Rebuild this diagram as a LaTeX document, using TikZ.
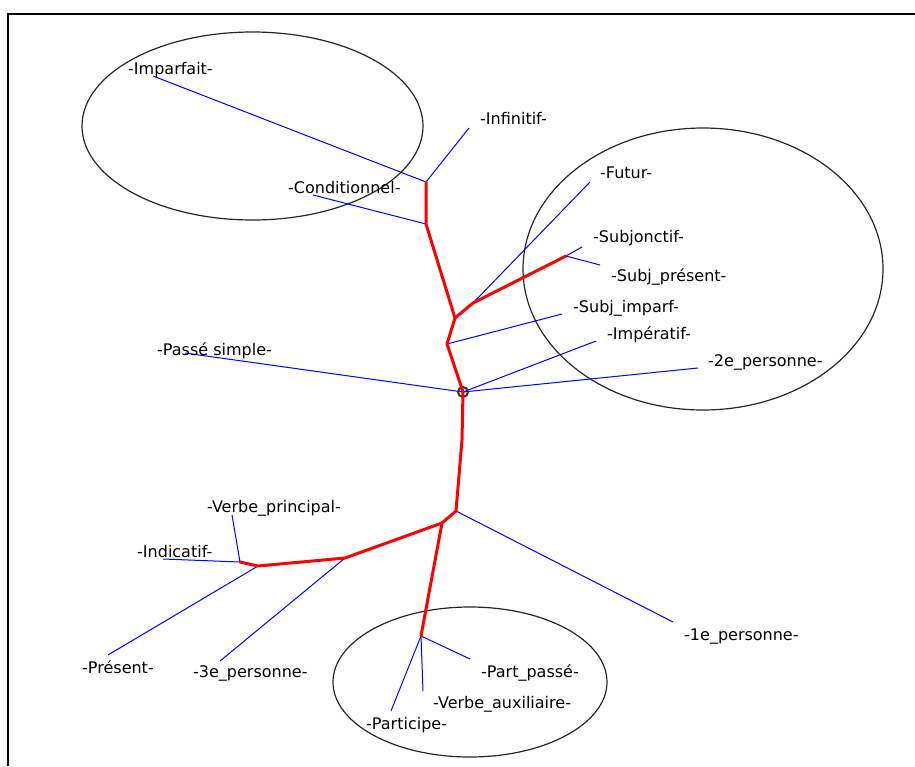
\documentclass[tikz,border=0pt]{standalone}
\usepackage{fontspec}
\setmainfont{DejaVu Sans}
\usepackage{tikz}
\usetikzlibrary{positioning}

\begin{document}
\begin{tikzpicture}[x=1pt,y=-1pt,
    etiquette/.style={anchor=west, inner sep=0pt, font=\fontsize{16}{18}\selectfont,
      text height=11.5pt, text depth=3pt},
    branche/.style={blue, line width=1pt},
    tronc/.style={red, line width=3pt, line join=round, line cap=round},
    zone/.style={black!85, line width=1.2pt}]
        \useasboundingbox (0,0) rectangle (915,766);
        % Cadre
        \draw[line width=2pt] (8,766) -- (8,13.5) -- (915,13.5);

        % Zones
        \draw[zone] (252.5,126) ellipse [x radius=170.5pt, y radius=94pt];
        \draw[zone] (703,269) ellipse [x radius=180pt, y radius=141pt];
        \draw[zone] (470,682) ellipse [x radius=137pt, y radius=75pt];

        % Noeuds internes de l'arbre
        \coordinate (cInf) at (426,182);
        \coordinate (cCond) at (426,224);
        \coordinate (cFut) at (455,318);
        \coordinate (cSubA) at (473,303);
        \coordinate (cSubj) at (566,256);
        \coordinate (cImpf) at (447,344);
        \coordinate (cCentre) at (463,392);
        \coordinate (cMilieu) at (462,440);
        \coordinate (cPers) at (456,511);
        \coordinate (cVerbe) at (442,523);
        \coordinate (cTroisP) at (345,558);
        \coordinate (cPres) at (258,566);
        \coordinate (cInd) at (240,562);
        \coordinate (cPart) at (421,636);

        % Extremites des feuilles
        \coordinate (eImparfait) at (153,76);
        \coordinate (eInfinitif) at (469,128);
        \coordinate (eConditionnel) at (313,195);
        \coordinate (eFutur) at (590,182);
        \coordinate (eSubjonctif) at (582,247);
        \coordinate (eSubjPres) at (600,265);
        \coordinate (eSubjImparf) at (562,314);
        \coordinate (ePasse) at (185,353);
        \coordinate (eImperatif) at (596,341);
        \coordinate (eDeuxP) at (698,368);
        \coordinate (ePremP) at (673,622);
        \coordinate (eVerbePr) at (232,515);
        \coordinate (eIndicatif) at (163,559);
        \coordinate (ePresent) at (108,655);
        \coordinate (eTroisP) at (220,661);
        \coordinate (ePartPasse) at (470,659);
        \coordinate (eAux) at (423,691);
        \coordinate (eParticipe) at (391,711);

        % Branches bleues
        \foreach \a/\b in {eImparfait/cInf, eInfinitif/cInf, eConditionnel/cCond,
            eFutur/cSubA, eSubjonctif/cSubj, eSubjPres/cSubj, eSubjImparf/cImpf,
            ePasse/cCentre, eImperatif/cCentre, eDeuxP/cCentre, ePremP/cPers,
            eVerbePr/cInd, eIndicatif/cInd, ePresent/cPres, eTroisP/cTroisP,
            ePartPasse/cPart, eAux/cPart, eParticipe/cPart} {
            \draw[branche] (\a) -- (\b);
        }

        % Chemin rouge
        \draw[black!80, line width=2pt] (cCentre) circle (5pt);
        \draw[tronc] (cInf) -- (cCond) -- (cFut) -- (cImpf) -- (cCentre) -- (cMilieu)
            -- (cPers) -- (cVerbe) -- (cPart);
        \draw[tronc] (cFut) -- (cSubA) -- (cSubj);
        \draw[tronc] (cVerbe) -- (cTroisP) -- (cPres) -- (cInd);

        % Etiquettes
        \node[etiquette] (imparfait) at (128,70) {-Imparfait-};
        \node[etiquette] (infinitif) at (480,120) {-Infinitif-};
        \node[etiquette] (conditionnel) at (288,189) {-Conditionnel-};
        \node[etiquette] (futur) at (600,174) {-Futur-};
        \node[etiquette] (subjonctif) at (593,238) {-Subjonctif-};
        \node[etiquette] (subjpres) at (611,277) {-Subj\_présent-};
        \node[etiquette] (subjimparf) at (573,308) {-Subj\_imparf-};
        \node[etiquette] (imperatif) at (607,335) {-Impératif-};
        \node[etiquette] (deuxp) at (708,362) {-2e\_personne-};
        \node[etiquette] (passe) at (157,351) {-Passé simple-};
        \node[etiquette] (verbepr) at (207,508) {-Verbe\_principal-};
        \node[etiquette] (indicatif) at (137,553) {-Indicatif-};
        \node[etiquette] (present) at (82,669) {-Présent-};
        \node[etiquette] (troisp) at (193,673) {-3e\_personne-};
        \node[etiquette] (premp) at (684,636) {-1e\_personne-};
        \node[etiquette] (partpasse) at (481,673) {-Part\_passé-};
        \node[etiquette] (aux) at (433,704) {-Verbe\_auxiliaire-};
        \node[etiquette] (participe) at (366,725) {-Participe-};
    \end{tikzpicture}
\end{document}
